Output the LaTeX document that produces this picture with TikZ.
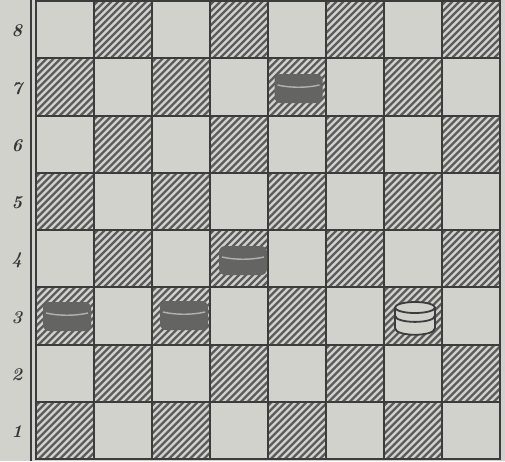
\documentclass[tikz,border=0pt]{standalone}
\definecolor{bgc}{RGB}{210,210,204}
\definecolor{linec}{RGB}{60,60,60}
\definecolor{hatchc}{RGB}{92,92,92}
\definecolor{piecec}{RGB}{100,100,98}
\tikzset{
  gridline/.style={draw=linec, line width=2pt},
  hatchline/.style={draw=hatchc, line width=2.2pt},
  darkpiece/.style={fill=piecec, rounded corners=6pt},
  pieceedge/.style={draw=bgc!85!black, line width=1.4pt},
  whitepiece/.style={fill=bgc, draw=linec, line width=1.8pt},
  rank/.style={font=\fontsize{18}{18}\selectfont\bfseries\itshape, text=linec!90!black, inner sep=0pt}
}
\newcommand{\mypiece}[2]{%
  \fill[darkpiece] (#1-24,#2-14) rectangle (#1+24,#2+15);
  \draw[pieceedge] (#1-21,#2-3) .. controls (#1-8,#2) and (#1+8,#2) .. (#1+21,#2-3);
}
\begin{document}
\begin{tikzpicture}[x=1pt,y=-1pt]
\fill[bgc] (0,0) rectangle (505,461);
\useasboundingbox (0,0) rectangle (505,461);
% hatched squares
\foreach \c in {1,...,8}{
  \foreach \r in {1,...,8}{
    \pgfmathtruncatemacro\pp{mod(\c+\r,2)}
    \ifnum\pp=0
      \pgfmathsetmacro\xl{36+(\c-1)*58}
      \pgfmathsetmacro\yt{1+(8-\r)*57.25}
      \begin{scope}
        \clip (\xl,\yt) rectangle (\xl+58,\yt+57.25);
        \foreach \k in {-63,-56,...,63}{
          \draw[hatchline] (\xl+\k,\yt+60) -- ++(64,-64);
        }
      \end{scope}
    \fi
  }
}
% grid
\foreach \c in {1,...,7}{
  \draw[gridline] (36+\c*58,1) -- (36+\c*58,459);
}
\foreach \r in {1,...,7}{
  \draw[gridline] (36,1+\r*57.25) -- (500,1+\r*57.25);
}
\draw[gridline, line width=2.6pt] (36,1) rectangle (500,459);
\draw[gridline, line width=2.2pt] (31,0) -- (31,461);
% rank labels
\foreach \r in {1,...,8}{
  \node[rank] (rank\r) at (17,{1+(8-\r)*57.25+30}) {\r};
}
% pieces
\mypiece{298.5}{88}
\mypiece{243}{260}
\mypiece{67}{316}
\mypiece{184}{315}
% white piece on g3
\fill[bgc] (395,307.5) -- (395,328) .. controls (395,337) and (435,337) .. (435,328) -- (435,307.5) -- cycle;
\draw[whitepiece] (415,307.5) ellipse [x radius=20, y radius=5.5];
\draw[linec, line width=1.8pt] (395,307.5) -- (395,328) .. controls (395,337) and (435,337) .. (435,328) -- (435,307.5);
\draw[linec, line width=1.8pt] (395,315.5) .. controls (395,324) and (435,324) .. (435,315.5);
\end{tikzpicture}
\end{document}
